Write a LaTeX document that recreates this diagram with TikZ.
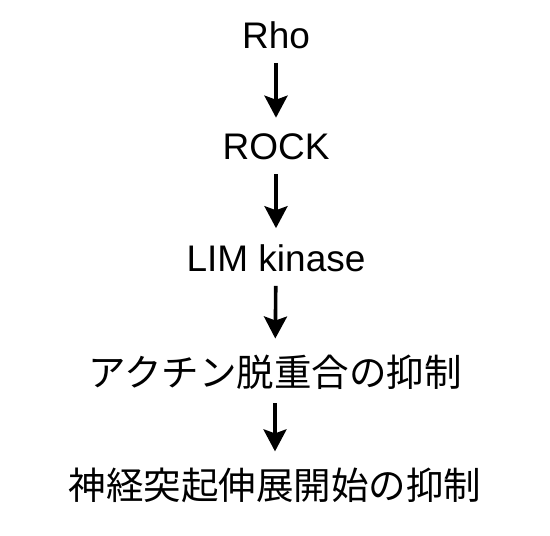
\documentclass[tikz,border=0pt]{standalone}
\usepackage{fontspec}
\setmainfont{Liberation Sans}
\newfontfamily\jpfont{Noto Sans CJK JP}
\usetikzlibrary{arrows.meta}
\begin{document}
\begin{tikzpicture}[x=1pt, y=1pt,
  label/.style={inner sep=0pt, font=\fontsize{37}{40}\selectfont},
  jplabel/.style={inner sep=0pt, font=\fontsize{37.5}{40}\selectfont\jpfont},
  flow/.style={-{Stealth[length=22pt, width=23pt, inset=4pt]}, line width=3.6pt, shorten <=14pt, shorten >=16pt}]
  \useasboundingbox (0,0) rectangle (550,536);
  % Signalling cascade, top to bottom
  \node[label]   (rho)  at (276,501) {Rho};
  \node[label]   (rock) at (276,389) {ROCK};
  \node[label]   (limk) at (276,278) {LIM kinase};
  \node[jplabel] (actin) at (275,164) {アクチン脱重合の抑制};
  \node[jplabel] (neurite) at (275,51) {神経突起伸展開始の抑制};
  % Arrows
  \draw[flow] (rho) -- (rock);
  \draw[flow] (rock) -- (limk);
  \draw[flow] (limk) -- (actin);
  \draw[flow] (actin) -- (neurite);
\end{tikzpicture}
\end{document}
